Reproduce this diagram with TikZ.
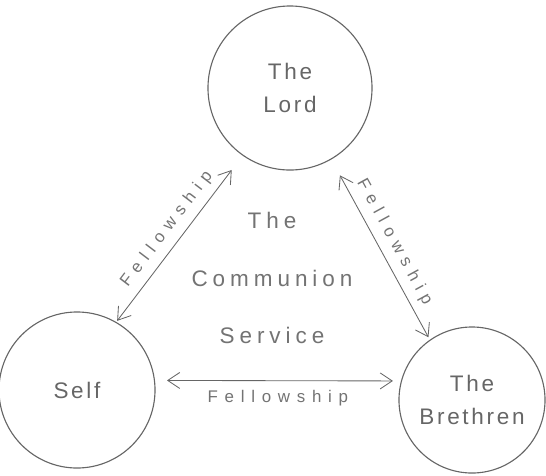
\documentclass[tikz,border=0pt]{standalone}
\usepackage{fontspec}
\setmainfont{Liberation Sans}
\usetikzlibrary{arrows.meta}
\begin{document}
\begin{tikzpicture}[
    x=0.025cm, y=-0.025cm,
    party/.style={circle, draw=black!60, thick, inner sep=0pt, align=center, text=black!60, font=\fontsize{16}{24}\selectfont\addfontfeature{LetterSpace=12}},
    arrow/.style={{Straight Barb[length=3mm,width=4mm]}-{Straight Barb[length=3mm,width=4mm]}, semithick, black!60},
    fellow/.style={midway, sloped, text=black!55, font=\fontsize{12}{14}\selectfont\addfontfeature{LetterSpace=40}},
]
\useasboundingbox (0,0) rectangle (546,475);
% The Lord
\node[party, minimum size=4.1cm] (lord) at (290,88) {The\\Lord};
% Self
\node[party, minimum size=3.9cm] (self) at (77,390) {Self};
% The Brethren
\node[party, minimum size=3.65cm] (brethren) at (472,400) {The\\Brethren};
% Centre text
\node[align=center, text=black!55, font=\fontsize{16}{41}\selectfont\addfontfeature{LetterSpace=22}] (communion) at (272,278) {The\\Communion\\Service};

% Fellowship arrows
\draw[arrow, shorten <=1pt, shorten >=0.45cm] (self.60) -- (lord.235) node[fellow, above=2pt] {Fellowship};
\draw[arrow, shorten <=0.45cm, shorten >=2pt] (lord.300) -- (brethren.125) node[fellow, above=2pt] {Fellowship};
\draw[arrow, shorten <=0.3cm, shorten >=0.2cm] (self.7) -- (brethren.165) node[fellow, below=3pt] {Fellowship};
\end{tikzpicture}
\end{document}
